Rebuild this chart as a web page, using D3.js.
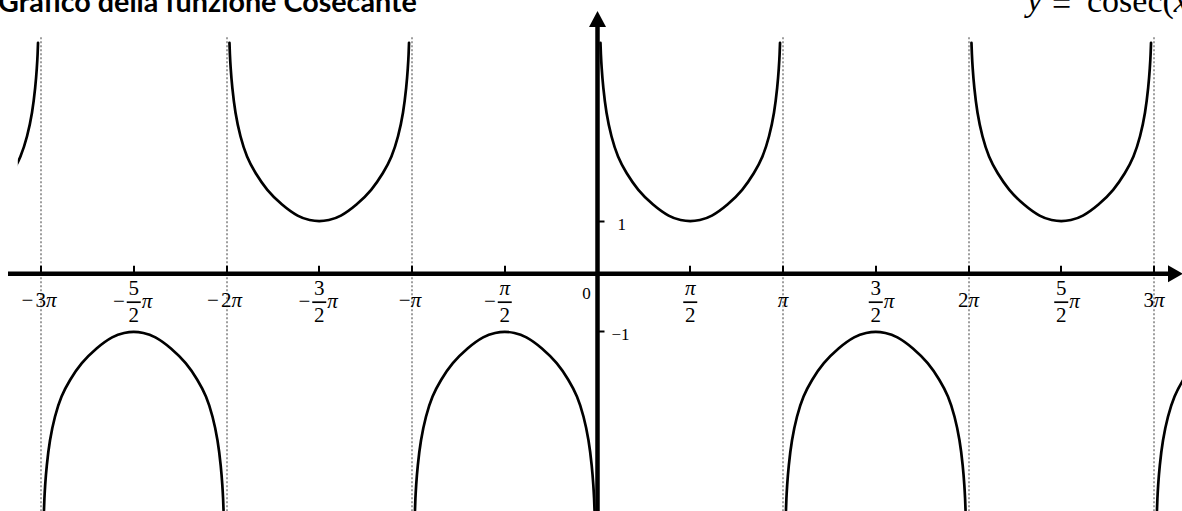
<!DOCTYPE html>
<html>
<head>
<meta charset="utf-8">
<script src="https://cdn.jsdelivr.net/npm/d3@7"></script>
<style>
  body { margin: 0; background: #fff; overflow: hidden; }
  svg { display: block; }
</style>
</head>
<body>
<div id="chart"></div>
<script>
// x values are in multiples of pi
const xTicks = [-3, -2.5, -2, -1.5, -1, -0.5, 0.5, 1, 1.5, 2, 2.5, 3];
const xTickLabels = ["−3π", "−5/2π", "−2π", "−3/2π", "−π", "−π/2", "π/2", "π", "3/2π", "2π", "5/2π", "3π"];
const asymptotes = [-3, -2, -1, 1, 2, 3];
const yTicks = [1, -1];
const yTickLabels = ["1", "−1"];

// each branch lives between two asymptotes; start of the interval (in pi)
const upperStarts = [-4, -2, 0, 2];
const lowerStarts = [-3, -1, 1, 3];
// half of one branch: distance from the asymptote (in pi) and |y|
const branchDx = [0.016, 0.018, 0.022, 0.030, 0.047, 0.074, 0.109, 0.155, 0.217, 0.298, 0.388, 0.45, 0.5];
const branchY = [4.25, 4.05, 3.80, 3.45, 2.97, 2.54, 2.17, 1.88, 1.57, 1.30, 1.08, 1.02, 1.0];

const width = 1182, height = 511;
const xMin = -3.125; // left edge of the drawn curves

const x = d3.scaleLinear().domain([-3, 3]).range([41, 1154]);
const y = d3.scaleLinear().domain([-1, 1]).range([331.5, 221.5]);
const axisY = y(0) - 2.8;
const axisX = x(0);

const svg = d3.select("#chart")
	.append("svg")
	.attr("width", width)
	.attr("height", height);

svg.append("defs")
	.append("clipPath")
	.attr("id", "plot-clip")
	.append("rect")
	.attr("x", x(xMin))
	.attr("y", 0)
	.attr("width", width - x(xMin))
	.attr("height", height);

// dotted asymptotes
svg.append("g")
	.selectAll("line")
	.data(asymptotes)
	.join("line")
	.attr("x1", (d) => Math.round(x(d)))
	.attr("x2", (d) => Math.round(x(d)))
	.attr("y1", y(4.35))
	.attr("y2", height)
	.attr("stroke", "#9e9e9e")
	.attr("stroke-width", 2)
	.attr("stroke-dasharray", "2,2");

// build branches from the profile
function branch(start, sign) {
	const left = branchDx.map((d, i) => [start + d, sign * branchY[i]]);
	const right = branchDx
		.slice(0, -1)
		.map((d, i) => [start + 1 - d, sign * branchY[i]])
		.reverse();
	return left.concat(right);
}
const branches = upperStarts.map((s) => branch(s, 1))
	.concat(lowerStarts.map((s) => branch(s, -1)));

const line = d3.line()
	.x((d) => x(d[0]))
	.y((d) => y(d[1]))
	.curve(d3.curveBasis);

// axes
svg.append("line")
	.attr("x1", 8)
	.attr("x2", width - 13)
	.attr("y1", axisY)
	.attr("y2", axisY)
	.attr("stroke", "#000")
	.attr("stroke-width", 4.5);
svg.append("path")
	.attr("d", `M${width + 1},${axisY} L${width - 14},${axisY - 8.5} L${width - 14},${axisY + 8.5} Z`)
	.attr("fill", "#000");

svg.append("line")
	.attr("x1", axisX)
	.attr("x2", axisX)
	.attr("y1", height)
	.attr("y2", 26)
	.attr("stroke", "#000")
	.attr("stroke-width", 4.5);
svg.append("path")
	.attr("d", `M${axisX},11 L${axisX - 8.5},27 L${axisX + 8.5},27 Z`)
	.attr("fill", "#000");

svg.append("g")
	.attr("clip-path", "url(#plot-clip)")
	.selectAll("path")
	.data(branches)
	.join("path")
	.attr("d", line)
	.attr("fill", "none")
	.attr("stroke", "#000")
	.attr("stroke-width", 2.7)
	.attr("stroke-linecap", "round");

// x ticks
svg.append("g")
	.selectAll("line")
	.data(xTicks)
	.join("line")
	.attr("x1", (d) => Math.round(x(d)))
	.attr("x2", (d) => Math.round(x(d)))
	.attr("y1", axisY - 8)
	.attr("y2", axisY)
	.attr("stroke", "#000")
	.attr("stroke-width", 2);

// y ticks
svg.append("g")
	.selectAll("line")
	.data(yTicks)
	.join("line")
	.attr("x1", axisX)
	.attr("x2", axisX + 7)
	.attr("y1", (d) => y(d))
	.attr("y2", (d) => y(d))
	.attr("stroke", "#000")
	.attr("stroke-width", 2);

const mathFont = "'Liberation Serif', 'Times New Roman', serif";

// x tick labels, fractions stacked
const labels = svg.append("g")
	.attr("font-family", mathFont)
	.attr("fill", "#000");

xTicks.forEach((v, i) => {
	const raw = xTickLabels[i];
	const cx = x(v);
	const neg = raw.startsWith("−");
	const body = neg ? raw.slice(1) : raw;
	if (!body.includes("/")) {
		const t = labels.append("text")
			.attr("x", cx + (neg ? -2 : 0))
			.attr("y", axisY + 33)
			.attr("text-anchor", "middle")
			.attr("font-size", 21);
		if (neg) t.append("tspan").text("−");
		const digits = body.replace("π", "");
		if (digits) t.append("tspan").attr("dx", neg ? 2 : 0).text(digits);
		t.append("tspan").attr("font-style", "italic").text("π");
		return;
	}
	const [num, rest] = body.split("/");
	const den = rest.replace("π", "");
	const suffix = rest.endsWith("π");
	labels.append("text")
		.attr("x", cx)
		.attr("y", axisY + 21)
		.attr("text-anchor", "middle")
		.attr("font-size", 21)
		.attr("font-style", num === "π" ? "italic" : "normal")
		.text(num);
	labels.append("line")
		.attr("x1", cx - 7)
		.attr("x2", cx + 7)
		.attr("y1", axisY + 28.5)
		.attr("y2", axisY + 28.5)
		.attr("stroke", "#000")
		.attr("stroke-width", 1.7);
	labels.append("text")
		.attr("x", cx)
		.attr("y", axisY + 48)
		.attr("text-anchor", "middle")
		.attr("font-size", 21)
		.text(den);
	if (neg) {
		labels.append("text")
			.attr("x", cx - 9)
			.attr("y", axisY + 34)
			.attr("text-anchor", "end")
			.attr("font-size", 21)
			.text("−");
	}
	if (suffix) {
		labels.append("text")
			.attr("x", cx + 8)
			.attr("y", axisY + 34)
			.attr("font-size", 21)
			.attr("font-style", "italic")
			.text("π");
	}
});

// origin and y labels
labels.append("text")
	.attr("x", axisX - 11)
	.attr("y", axisY + 25)
	.attr("text-anchor", "middle")
	.attr("font-size", 17)
	.text("0");

labels.selectAll(".ylab")
	.data(yTicks)
	.join("text")
	.attr("class", "ylab")
	.attr("x", (d) => axisX + (d > 0 ? 20 : 14))
	.attr("y", (d) => y(d) + 8)
	.attr("font-size", 17)
	.text((d, i) => yTickLabels[i]);

// title, fitted to the width seen in the picture
const title = svg.append("text")
	.attr("x", -2)
	.attr("y", 11.5)
	.attr("font-family", "Lato, 'Open Sans', sans-serif")
	.attr("font-weight", "bold")
	.attr("font-size", 22)
	.attr("fill", "#000")
	.text("Grafico della funzione Cosecante");
const tw = title.node().getComputedTextLength();
title.attr("font-size", 22 * 419 / tw);

// formula top right
const formula = svg.append("g")
	.attr("font-family", mathFont)
	.attr("font-size", 34)
	.attr("fill", "#000");
formula.append("text").attr("x", 1027).attr("y", 11).attr("font-style", "italic").text("y");
formula.append("text").attr("x", 1052).attr("y", 15).text("=");
formula.append("text").attr("x", 1087).attr("y", 12)
	.html("cosec(<tspan font-style='italic'>x</tspan>)");
</script>
</body>
</html>
